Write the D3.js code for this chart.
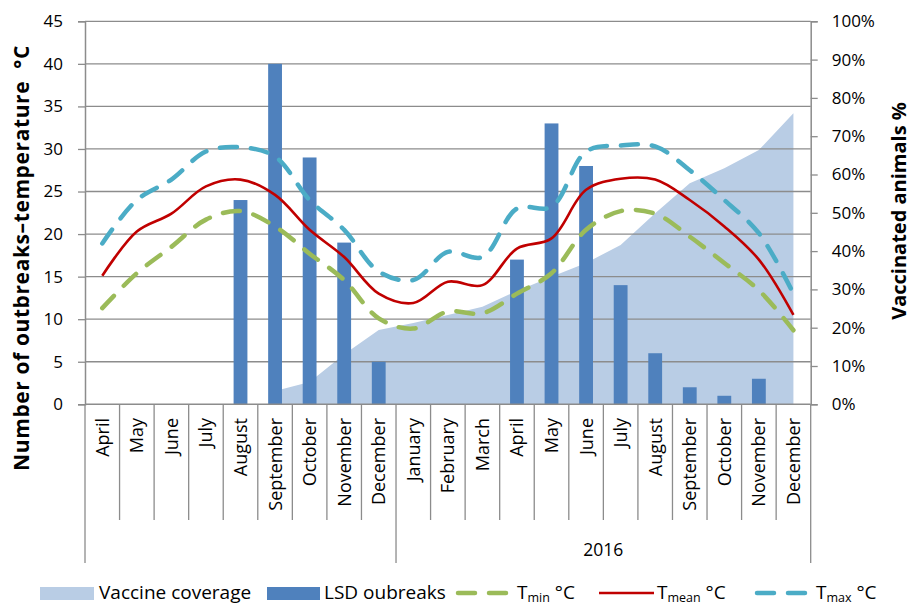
<!DOCTYPE html>
<html>
<head>
<meta charset="utf-8">
<script src="https://cdn.jsdelivr.net/npm/d3@7"></script>
<style>
    body{ margin: 0; background: #fff; }
    svg text{ font-family: "Open Sans", Lato, sans-serif; fill: #000; white-space: pre; }
</style>
</head>
<body>
<div id="chart"></div>
<script>
// months, april 2015 - december 2016
var months = ['April', 'May', 'June', 'July', 'August', 'September', 'October', 'November', 'December',
    'January', 'February', 'March', 'April', 'May', 'June', 'July', 'August', 'September', 'October', 'November', 'December'];
var yearLabels = ['', '2016'];

// LSD outbreaks per month
var outbreaks = [0, 0, 0, 0, 24, 40, 29, 19, 5, 0, 0, 0, 17, 33, 28, 14, 6, 2, 1, 3, 0];

// vaccine coverage (%), null = not started yet
var coverage = [null, null, null, null, null, 3.5, 5.8, 13.1, 19.4, 21.2, 23.3, 25.5, 29.6, 33.3, 36.9, 41.6, 49.9, 57.7, 61.6, 66.4, 76];

// temperatures
var tMin = [11.3, 15.4, 18.5, 21.7, 22.7, 20.9, 17.7, 14.6, 10.1, 8.9, 10.9, 10.7, 13.0, 15.4, 20.5, 22.7, 22.4, 19.7, 16.6, 13.4, 8.7];
var tMean = [15.1, 20.3, 22.4, 25.6, 26.4, 24.6, 20.5, 17.3, 13.0, 11.9, 14.4, 14.0, 18.3, 19.5, 25.2, 26.5, 26.4, 24.0, 20.9, 17.0, 10.5];
var tMax = [18.9, 24.0, 26.4, 29.7, 30.2, 29.1, 24.0, 20.5, 15.6, 14.6, 17.9, 17.3, 23.0, 23.2, 29.7, 30.4, 30.3, 27.5, 24.0, 20.1, 13.0];

var leftTicks = d3.range(0, 46, 5);
var rightTicks = d3.range(0, 1.01, 0.1);

var colors = {
    area: '#b9cde5',
    bar: '#4f81bd',
    min: '#9bbb59',
    mean: '#c00000',
    max: '#4bacc6',
    grid: '#8c8c8c'
};

var width = 911, height = 604;
var plotLeft = 85, plotRight = 810.7, plotTop = 21.3, plotBottom = 404.3;

var svg = d3.select('#chart').append('svg')
    .attr('width', width)
    .attr('height', height);

var x = d3.scaleBand()
    .domain(d3.range(months.length))
    .range([plotLeft, plotRight]);

var yLeft = d3.scaleLinear().domain([0, 45]).range([plotBottom, plotTop]);
var yRight = d3.scaleLinear().domain([0, 1]).range([plotBottom, plotTop]);

function cx(i){ return x(i) + x.bandwidth() / 2; }

// vaccine coverage area
var area = d3.area()
    .defined(function(d){ return d != null; })
    .x(function(d, i){ return cx(i); })
    .y0(plotBottom)
    .y1(function(d){ return yRight(d / 100); });

svg.append('path')
    .datum(coverage)
    .attr('fill', colors.area)
    .attr('d', area);

// gridlines
svg.append('g')
    .selectAll('line')
    .data(leftTicks.slice(1))
    .enter().append('line')
        .attr('x1', plotLeft)
        .attr('x2', plotRight)
        .attr('y1', function(d){ return yLeft(d); })
        .attr('y2', function(d){ return yLeft(d); })
        .attr('stroke', colors.grid)
        .attr('stroke-width', 1.3);

// bars
var barW = x.bandwidth() * 0.4;
svg.append('g')
    .selectAll('rect')
    .data(outbreaks)
    .enter().append('rect')
        .attr('x', function(d, i){ return cx(i) - barW / 2; })
        .attr('y', function(d){ return yLeft(d); })
        .attr('width', barW)
        .attr('height', function(d){ return plotBottom - yLeft(d); })
        .attr('fill', colors.bar);

// left axis
var leftAxis = svg.append('g')
    .attr('transform', 'translate(' + plotLeft + ',0)')
    .call(d3.axisLeft(yLeft).tickValues(leftTicks).tickSize(7).tickPadding(15));

// right axis
var rightAxis = svg.append('g')
    .attr('transform', 'translate(' + plotRight + ',0)')
    .call(d3.axisRight(yRight).tickValues(rightTicks).tickSize(7).tickPadding(14).tickFormat(d3.format('.0%')));

[leftAxis, rightAxis].forEach(function(ax){
    ax.select('.domain').attr('stroke', colors.grid).attr('stroke-width', 1.5);
    ax.selectAll('.tick line').attr('stroke', colors.grid).attr('stroke-width', 1.3);
    ax.selectAll('.tick text').style('font-size', '17px').style('font-family', '"Open Sans", sans-serif').attr('fill', '#000');
});
rightAxis.selectAll('.tick text').attr('x', 21);

// bottom category axis
svg.append('line')
    .attr('x1', plotLeft).attr('x2', plotRight)
    .attr('y1', plotBottom).attr('y2', plotBottom)
    .attr('stroke', colors.grid).attr('stroke-width', 1.5);

svg.append('g')
    .selectAll('line')
    .data(d3.range(months.length + 1))
    .enter().append('line')
        .attr('x1', function(d){ return d < months.length ? x(d) : plotRight; })
        .attr('x2', function(d){ return d < months.length ? x(d) : plotRight; })
        .attr('y1', plotBottom)
        .attr('y2', function(d){ return (d == 0 || d == 9 || d == months.length) ? 563 : 520; })
        .attr('stroke', colors.grid)
        .attr('stroke-width', 1.3);

svg.append('g')
    .selectAll('text')
    .data(months)
    .enter().append('text')
        .attr('transform', function(d, i){ return 'translate(' + (cx(i) + 6.5) + ',418) rotate(-90)'; })
        .attr('text-anchor', 'end')
        .style('font-size', '18px')
        .text(function(d){ return d; });

svg.append('text')
    .attr('x', (x(9) + plotRight) / 2)
    .attr('y', 556)
    .attr('text-anchor', 'middle')
    .style('font-size', '17.5px')
    .text(yearLabels[1]);

// temperature lines
var line = d3.line()
    .x(function(d, i){ return cx(i); })
    .y(function(d){ return yLeft(d); })
    .curve(d3.curveCatmullRom.alpha(0.5));

var series = [
    {data: tMin, color: colors.min, width: 4.5, dash: '17,14'},
    {data: tMean, color: colors.mean, width: 2.6, dash: null},
    {data: tMax, color: colors.max, width: 4.5, dash: '17,14'}
];

series.forEach(function(s){
    svg.append('path')
        .datum(s.data)
        .attr('fill', 'none')
        .attr('stroke', s.color)
        .attr('stroke-width', s.width)
        .attr('stroke-linecap', s.dash ? 'round' : 'butt')
        .attr('stroke-dasharray', s.dash)
        .attr('d', line);
});

// axis titles
svg.append('text')
    .attr('transform', 'translate(29,258) rotate(-90)')
    .attr('text-anchor', 'middle')
    .style('font-size', '21px')
    .style('font-weight', 'bold')
    .style('letter-spacing', '0.6px')
    .text('Number of outbreaks\u2013temperature  \u00b0C');

svg.append('text')
    .attr('transform', 'translate(906,211) rotate(-90)')
    .attr('text-anchor', 'middle')
    .style('font-size', '20px')
    .style('font-weight', 'bold')
    .text('Vaccinated animals %');

// legend
var legend = svg.append('g').attr('transform', 'translate(0,592)');

legend.append('rect').attr('x', 40).attr('y', -5).attr('width', 54).attr('height', 13).attr('fill', colors.area);
legend.append('text').attr('x', 99).attr('y', 7).style('font-size', '19px').text('Vaccine coverage');

legend.append('rect').attr('x', 267).attr('y', -5).attr('width', 53).attr('height', 13).attr('fill', colors.bar);
legend.append('text').attr('x', 324).attr('y', 7).style('font-size', '19px').text('LSD oubreaks');

var lineKeys = [
    {x1: 458, x2: 507, color: colors.min, width: 4.5, dash: '17,14', tx: 517, sub: 'min'},
    {x1: 599, x2: 654, color: colors.mean, width: 2.6, dash: null, tx: 657, sub: 'mean'},
    {x1: 757, x2: 806, color: colors.max, width: 4.5, dash: '17,14', tx: 816, sub: 'max'}
];

lineKeys.forEach(function(k){
    legend.append('line')
        .attr('x1', k.x1).attr('x2', k.x2)
        .attr('y1', 1).attr('y2', 1)
        .attr('stroke', k.color)
        .attr('stroke-width', k.width)
        .attr('stroke-linecap', k.dash ? 'round' : 'butt')
        .attr('stroke-dasharray', k.dash);

    var t = legend.append('text').attr('x', k.tx).attr('y', 7).style('font-size', '19px');
    t.append('tspan').text('T');
    t.append('tspan').attr('dy', 3).style('font-size', '12.5px').text(k.sub);
    t.append('tspan').attr('dy', -3).text(' \u00b0C');
});
</script>
</body>
</html>
